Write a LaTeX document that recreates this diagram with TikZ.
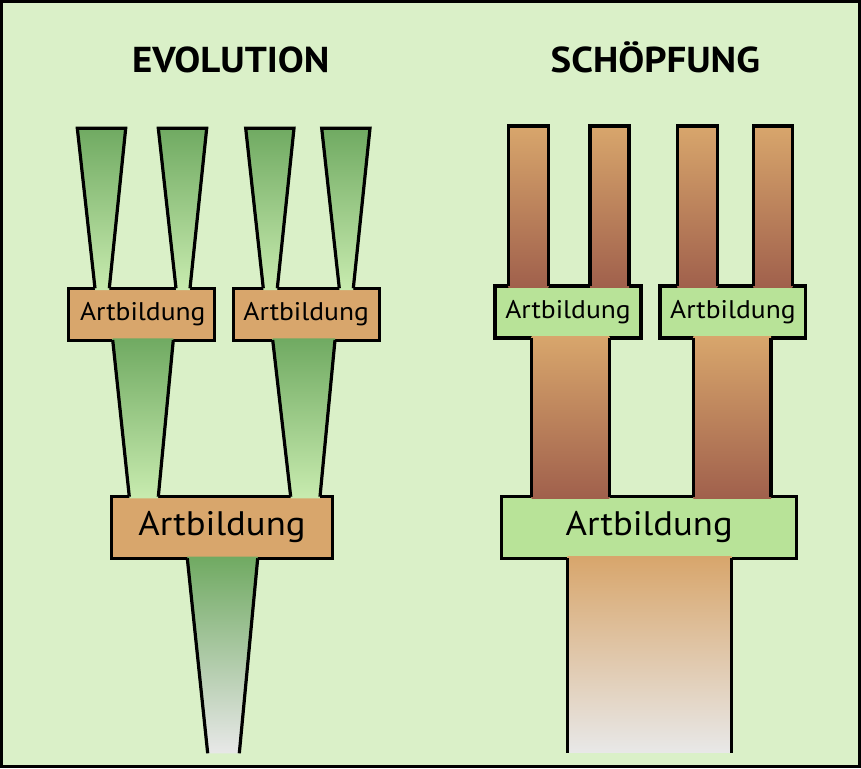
\documentclass[tikz,border=0pt]{standalone}
\usepackage{fontspec}
\setmainfont[FakeStretch=1.08]{PT Sans}
\definecolor{bg}{RGB}{218,240,200}
\definecolor{gd}{RGB}{112,170,98}
\definecolor{gl}{RGB}{200,235,175}
\definecolor{org}{RGB}{216,166,108}
\definecolor{lgb}{RGB}{184,227,152}
\definecolor{brn}{RGB}{160,96,76}
\definecolor{gry}{RGB}{232,232,232}
\begin{document}
\begin{tikzpicture}[x=1pt,y=-1pt,line width=3.2pt,line join=miter,
  box/.style={draw=black,line width=3.2pt,inner sep=0pt,minimum width=146pt,minimum height=52pt,font=\fontsize{25.5}{30}\selectfont},
  bigbox/.style={box,minimum width=220.6pt,minimum height=61.6pt,font=\fontsize{34}{38}\selectfont},
  title/.style={anchor=base,font=\fontsize{36}{40}\selectfont\bfseries},
  gshade/.style={top color=gd,bottom color=gl},
  bshade/.style={top color=org,bottom color=brn}]
\useasboundingbox (0,0) rectangle (861,768);
\draw[fill=bg,line width=3pt] (1.5,1.5) rectangle (859.5,766.5);
% titles
\node[title] (evo) at (230.8,72.3) {EVOLUTION};
\node[title] (sch) at (655.3,72.3) {SCHÖPFUNG};
% ---------------- left: evolution ----------------
\node[box,fill=org] (L1) at (141.3,314.2) {\hspace{3pt}Artbildung};
\node[box,fill=org] (L2) at (306.2,314.2) {Artbildung};
\node[bigbox,fill=org] (L3) at (222,527.5) {Artbildung};
% top trapezoids
\shade[gshade] (77.3,128.3) -- (125.7,128.3) -- (109.2,290) -- (95.1,290) -- cycle;
\draw (95,288.3) -- (77.3,128.3) -- (125.7,128.3) -- (109.3,288.3);
\shade[gshade] (158.3,128.3) -- (206.7,128.3) -- (189.9,290) -- (176.1,290) -- cycle;
\draw (176,288.3) -- (158.3,128.3) -- (206.7,128.3) -- (190,288.3);
\shade[gshade] (245.7,128.3) -- (294,128.3) -- (277.2,290) -- (263.4,290) -- cycle;
\draw (263.3,288.3) -- (245.7,128.3) -- (294,128.3) -- (277.3,288.3);
\shade[gshade] (321.7,128.3) -- (370,128.3) -- (353.2,290) -- (339.4,290) -- cycle;
\draw (339.3,288.3) -- (321.7,128.3) -- (370,128.3) -- (353.3,288.3);
% middle trapezoids
\shade[gshade] (112.5,338.3) -- (173.5,338.3) -- (158.1,498.3) -- (129.4,498.3) -- cycle;
\draw (112.7,340) -- (129.3,496.7);
\draw (173.3,340) -- (158.3,496.7);
\shade[gshade] (272.5,338.3) -- (335.2,338.3) -- (319.8,498.3) -- (290.8,498.3) -- cycle;
\draw (272.7,340) -- (290.7,496.7);
\draw (335,340) -- (320,496.7);
% bottom trapezoid
\shade[top color=gd,middle color={rgb,255:red,172;green,202;blue,150},bottom color=gry]
  (187.2,556.7) -- (257.8,556.7) -- (239.3,753.3) -- (207.7,753.3) -- cycle;
\draw (187.3,558.3) -- (207.7,753.3);
\draw (257.7,558.3) -- (239.3,753.3);
% ---------------- right: creation ----------------
\node[box,fill=lgb] (R1) at (568,311.9) {Artbildung};
\node[box,fill=lgb,minimum width=145.7pt] (R2) at (732.9,311.9) {\raisebox{1.5pt}{Artbildung}};
\node[bigbox,fill=lgb,minimum width=295pt] (R3) at (649.2,527.5) {Artbildung};
% top columns
\shade[bshade] (508.3,126) rectangle (548.3,287.5);
\draw (508.3,286) -- (508.3,126) -- (548.3,126) -- (548.3,286);
\shade[bshade] (590,126) rectangle (629,287.5);
\draw (590,286) -- (590,126) -- (629,126) -- (629,286);
\shade[bshade] (677.3,126) rectangle (717.3,287.5);
\draw (677.3,286) -- (677.3,126) -- (717.3,126) -- (717.3,286);
\shade[bshade] (753.3,126) rectangle (792.3,287.5);
\draw (753.3,286) -- (753.3,126) -- (792.3,126) -- (792.3,286);
% middle columns
\shade[bshade] (531.7,336.2) rectangle (609.3,498.2);
\draw (531.7,337.7) -- (531.7,496.7);
\draw (609.3,337.7) -- (609.3,496.7);
\shade[bshade] (693.3,336.2) rectangle (771,498.2);
\draw (693.3,337.7) -- (693.3,496.7);
\draw (771,337.7) -- (771,496.7);
% bottom column
\shade[top color=org,bottom color=gry] (567.3,556.8) rectangle (731.7,752.7);
\draw (567.3,558.3) -- (567.3,752.7);
\draw (731.7,558.3) -- (731.7,752.7);
\end{tikzpicture}
\end{document}
